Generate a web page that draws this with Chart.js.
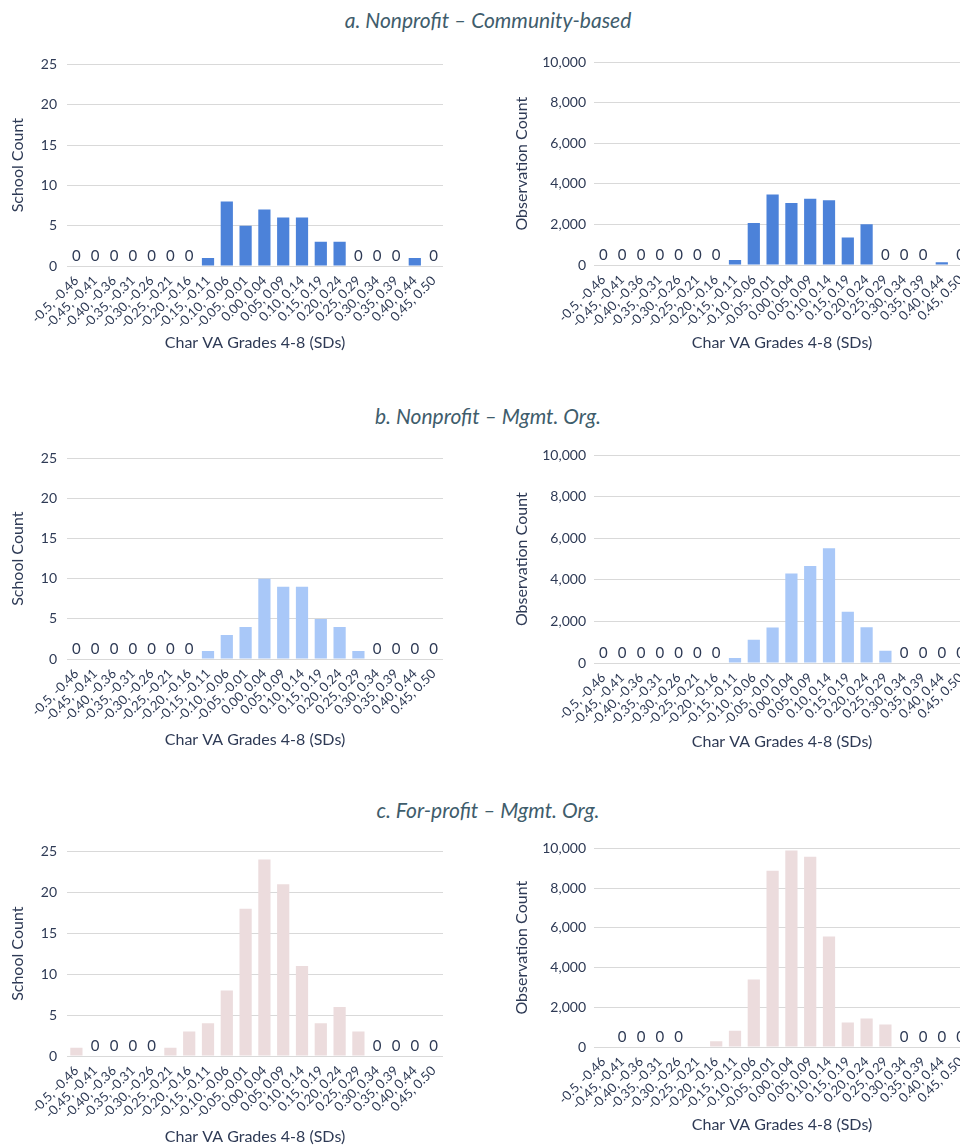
<!DOCTYPE html>
<html>
<head>
<meta charset="utf-8">
<script src="https://cdn.jsdelivr.net/npm/chart.js@4.4.0/dist/chart.umd.min.js"></script>
<style>
  html, body { margin: 0; padding: 0; background: #ffffff; }
  #wrap { position: relative; width: 960px; height: 1147px; overflow: hidden; background: #fff; }
  .title { position: absolute; left: 0; width: 976px; text-align: center; font-family: Lato, "Open Sans", sans-serif; font-style: italic; font-size: 21px; color: #3f5d6c; line-height: 24px; }
  .box { position: absolute; }
</style>
</head>
<body>
<div id="wrap">
  <div class="title" style="top:8px">a. Nonprofit – Community-based</div>
  <div class="title" style="top:404px">b. Nonprofit – Mgmt. Org.</div>
  <div class="title" style="top:798px">c. For-profit – Mgmt. Org.</div>
</div>
<script>
// ---- data ----
const categories = ["-0.5, -0.46","-0.45, -0.41","-0.40, -0.36","-0.35, -0.31","-0.30, -0.26","-0.25, -0.21","-0.20, -0.16","-0.15, -0.11","-0.10, -0.06","-0.05, -0.01","0.00, 0.04","0.05, 0.09","0.10, 0.14","0.15, 0.19","0.20, 0.24","0.25, 0.29","0.30, 0.34","0.35, 0.39","0.40, 0.44","0.45, 0.50"];
const schoolA = [0,0,0,0,0,0,0,1,8,5,7,6,6,3,3,0,0,0,1,0];
const obsA    = [0,0,0,0,0,0,0,245,2075,3480,3055,3270,3190,1360,2010,0,0,0,130,0];
const schoolB = [0,0,0,0,0,0,0,1,3,4,10,9,9,5,4,1,0,0,0,0];
const obsB    = [0,0,0,0,0,0,0,240,1120,1710,4310,4670,5530,2470,1720,590,0,0,0,0];
const schoolC = [1,0,0,0,0,1,3,4,8,18,24,21,11,4,6,3,0,0,0,0];
const obsC    = [20,0,0,0,0,20,285,820,3400,8870,9900,9580,5570,1230,1430,1130,0,0,0,0];
const schoolTicks = [0,5,10,15,20,25];
const obsTicks = [0,2000,4000,6000,8000,10000];
const xTitle = "Char VA Grades 4-8 (SDs)";

const colorA = "#4c82d9";
const colorB = "#a9c8f8";
const colorC = "#ecdcdd";
const textColor = "#2e3a55";
const gridColor = "#d9d9d9";
const FONT = "Lato, 'Open Sans', sans-serif";

// layout: left x of canvas, plot top, plot bottom, x-title center y
const panels = [
  {data: schoolA, color: colorA, kind: "school", x: 0,   top: 61,  bottom: 266, titleY: 343},
  {data: obsA,    color: colorA, kind: "obs",    x: 480, top: 61,  bottom: 265, titleY: 343},
  {data: schoolB, color: colorB, kind: "school", x: 0,   top: 455, bottom: 659, titleY: 740},
  {data: obsB,    color: colorB, kind: "obs",    x: 480, top: 454, bottom: 663, titleY: 742},
  {data: schoolC, color: colorC, kind: "school", x: 0,   top: 848, bottom: 1056, titleY: 1137},
  {data: obsC,    color: colorC, kind: "obs",    x: 480, top: 847, bottom: 1047, titleY: 1125}
];

const zeroLabels = {
  id: "zeroLabels",
  afterDatasetsDraw(chart) {
    const ctx = chart.ctx;
    const meta = chart.getDatasetMeta(0);
    const vals = chart.data.datasets[0].data;
    ctx.save();
    ctx.font = "15px " + FONT;
    ctx.fillStyle = textColor;
    ctx.textAlign = "center";
    ctx.textBaseline = "alphabetic";
    meta.data.forEach((el, i) => {
      if (vals[i] === 0) ctx.fillText("0", el.x, el.y - 5);
    });
    ctx.restore();
  }
};

const wrap = document.getElementById("wrap");
const PAD_TOP = 15;
panels.forEach(p => {
  const isObs = p.kind === "obs";
  const yAxisW = isObs ? 114 : 67;
  const canvasW = isObs ? 500 : 480;
  const plotW = 376;
  const padRight = canvasW - yAxisW - plotW;
  const xAxisH = p.titleY - p.bottom + 12;
  const canvasH = PAD_TOP + (p.bottom - p.top) + xAxisH;
  const div = document.createElement("div");
  div.className = "box";
  div.style.left = p.x + "px";
  div.style.top = (p.top - PAD_TOP) + "px";
  div.style.width = canvasW + "px";
  div.style.height = canvasH + "px";
  const cv = document.createElement("canvas");
  div.appendChild(cv);
  wrap.appendChild(div);
  const ticks = isObs ? obsTicks : schoolTicks;
  new Chart(cv, {
    type: "bar",
    data: {
      labels: categories,
      datasets: [{
        data: p.data,
        backgroundColor: p.color,
        borderWidth: 0,
        barPercentage: 0.65,
        categoryPercentage: 1.0
      }]
    },
    options: {
      responsive: true,
      maintainAspectRatio: false,
      animation: false,
      events: [],
      layout: { padding: { top: PAD_TOP, right: padRight, left: 0, bottom: 0 } },
      plugins: { legend: { display: false }, tooltip: { enabled: false }, title: { display: false } },
      scales: {
        x: {
          grid: { display: false, drawTicks: false },
          border: { display: false },
          ticks: {
            color: textColor,
            font: { family: FONT, size: 13 },
            maxRotation: 45, minRotation: 45,
            autoSkip: false,
            padding: 7
          },
          title: {
            display: true, text: xTitle, color: textColor,
            font: { family: FONT, size: 16 },
            padding: { top: 0, bottom: 3 }
          },
          afterFit(scale) { scale.height = xAxisH; }
        },
        y: {
          min: 0,
          max: ticks[ticks.length - 1],
          grid: { color: gridColor, lineWidth: 1, drawTicks: false },
          border: { display: false },
          afterBuildTicks(scale) { scale.ticks = ticks.map(v => ({ value: v })); },
          ticks: {
            color: textColor,
            font: { family: FONT, size: 14 },
            padding: isObs ? 8 : 10,
            callback: v => v.toLocaleString("en-US")
          },
          title: {
            display: true,
            text: isObs ? "Observation Count" : "School Count",
            color: textColor,
            font: { family: FONT, size: 16 },
            padding: { top: isObs ? 32 : 8, bottom: 0 }
          },
          afterFit(scale) { scale.width = yAxisW; }
        }
      }
    },
    plugins: [zeroLabels]
  });
});
</script>
</body>
</html>
